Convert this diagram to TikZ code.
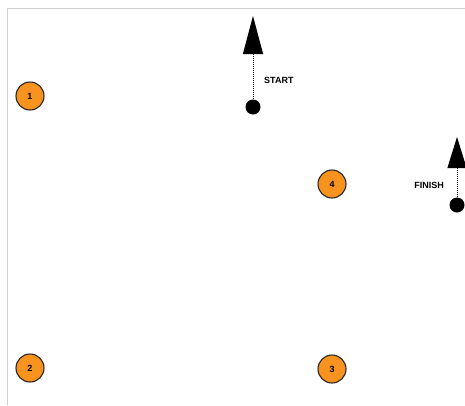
\documentclass[tikz,border=0pt]{standalone}
\usepackage{fontspec}
\setmainfont{Liberation Sans}
\usepackage{xcolor}
\usetikzlibrary{arrows.meta,positioning}
\definecolor{markorange}{HTML}{F7931E}
\definecolor{framegray}{HTML}{D0D0D0}

\begin{document}
\begin{tikzpicture}[
  x=1pt, y=-1pt,
  marker/.style={
    circle,
    draw=black!85,
    line width=1.1pt,
    fill=markorange,
    minimum size=28pt,
    inner sep=0pt,
    font=\bfseries\fontsize{9}{10}\selectfont
  },
  dot/.style={
    circle,
    fill=black,
    minimum size=15pt,
    inner sep=0pt
  },
  tag/.style={
    inner sep=0pt,
    font=\bfseries\fontsize{9}{10}\selectfont
  },
  heading/.style={
    dash pattern=on 1pt off 1pt, line width=1pt,
    -{Triangle[length=38pt, width=20pt]}
  }
]

\useasboundingbox (0,0) rectangle (465,405);
\draw[framegray, line width=0.8pt] (7,405) -- (7,8) -- (465,8);

% waypoints
\node[marker] (wp1) at (30,96) {1};
\node[marker] (wp2) at (30,368) {2};
\node[marker] (wp3) at (332,369) {3};
\node[marker] (wp4) at (332,184) {4};

% start pose
\node[dot] (startdot) at (253,107) {};
\coordinate (starttip) at (253,16);
\draw[heading] (startdot.center) -- (starttip);
\node[tag, anchor=west] (start) at (264,80) {START};

% finish pose
\node[dot] (finishdot) at (457,205) {};
\coordinate (finishtip) at (457,137);
\draw[heading, -{Triangle[length=31pt, width=19pt]}] (finishdot.center) -- (finishtip);
\node[tag, anchor=east] (finish) at (444,185) {FINISH};

\end{tikzpicture}
\end{document}
